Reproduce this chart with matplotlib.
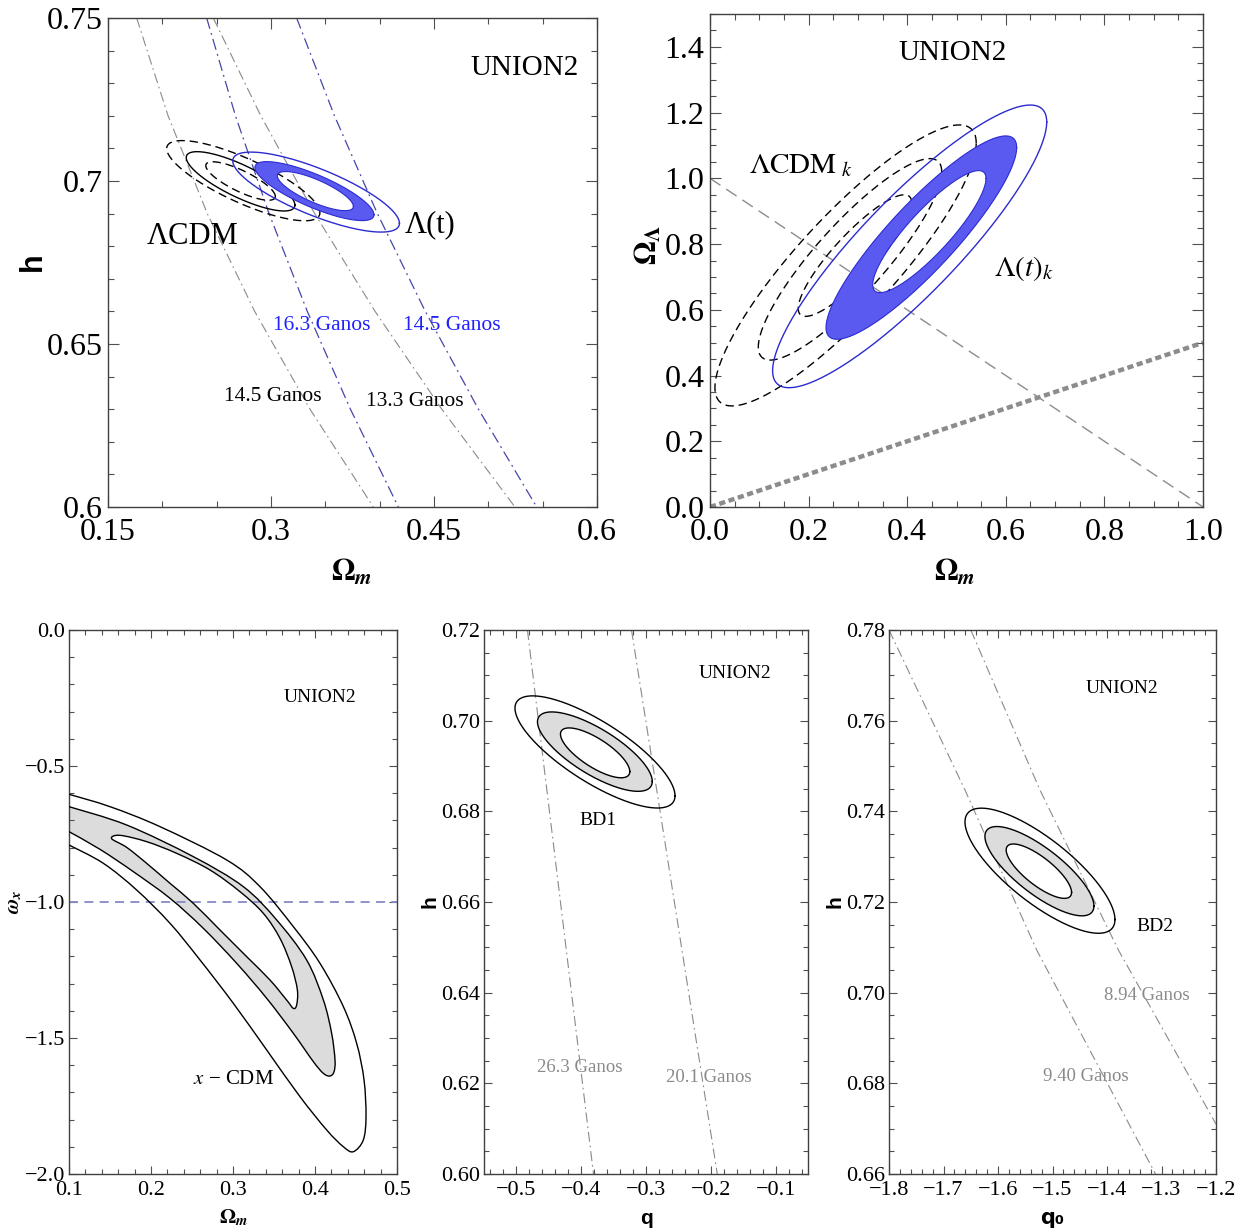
import numpy as np
import matplotlib
matplotlib.use('Agg')
import matplotlib.pyplot as plt
from matplotlib.path import Path
from matplotlib.patches import PathPatch
from matplotlib.ticker import MultipleLocator, FixedLocator, FixedFormatter

plt.rcParams['mathtext.fontset'] = 'stix'
plt.rcParams['font.family'] = ['Liberation Serif', 'DejaVu Serif']

# ---------------- Panel A : (Omega_m, h) ----------------
# contour ellipses: centre x, centre y, half-extent x, half-extent y, correlation
A_lcdm_cx = [0.272, 0.272, 0.2745]
A_lcdm_cy = [0.700, 0.6999, 0.7001]
A_lcdm_rx = [0.032, 0.050, 0.0705]
A_lcdm_ry = [0.0059, 0.0091, 0.0123]
A_lcdm_rho = [-0.8, -0.8, -0.8]
A_lt_cx = [0.3408, 0.340, 0.3415]
A_lt_cy = [0.6969, 0.6969, 0.6966]
A_lt_rx = [0.035, 0.0548, 0.0767]
A_lt_ry = [0.0060, 0.00905, 0.01227]
A_lt_rho = [-0.78, -0.80, -0.78]
A_age_h = [0.75, 0.72, 0.69, 0.66, 0.63, 0.60]
A_age_lcdm_145 = [0.1764, 0.2053, 0.2414, 0.2850, 0.3359, 0.3942]
A_age_lcdm_133 = [0.2469, 0.2906, 0.3402, 0.3958, 0.4572, 0.5245]
A_age_lt_163 = [0.2408, 0.2673, 0.2982, 0.3334, 0.3731, 0.4172]
A_age_lt_145 = [0.3236, 0.3584, 0.3979, 0.4420, 0.4909, 0.5445]
A_xticks = [0.15, 0.3, 0.45, 0.6]
A_xlabels = ['0.15', '0.3', '0.45', '0.6']
A_yticks = [0.6, 0.65, 0.7, 0.75]
A_ylabels = ['0.6', '0.65', '0.7', '0.75']

# ---------------- Panel B : (Omega_m, Omega_Lambda) ----------------
B_lcdm_cx = [0.294, 0.284, 0.275]
B_lcdm_cy = [0.765, 0.7535, 0.735]
B_lcdm_rx = [0.115, 0.186, 0.265]
B_lcdm_ry = [0.185, 0.3065, 0.4275]
B_lcdm_rho = [0.87, 0.87, 0.87]
B_lt_cx = [0.4449, 0.4287, 0.405]
B_lt_cy = [0.8378, 0.8197, 0.793]
B_lt_rx = [0.1149, 0.1934, 0.278]
B_lt_ry = [0.1857, 0.3094, 0.43]
B_lt_rho = [0.87, 0.885, 0.88]
B_flat_om = [0.0, 1.0]
B_flat_ol = [1.0, 0.0]
B_q0_om = [0.0, 1.0]
B_q0_ol = [0.0, 0.5]
B_xticks = [0.0, 0.2, 0.4, 0.6, 0.8, 1.0]
B_xlabels = ['0.0', '0.2', '0.4', '0.6', '0.8', '1.0']
B_yticks = [0.0, 0.2, 0.4, 0.6, 0.8, 1.0, 1.2, 1.4]
B_ylabels = ['0.0', '0.2', '0.4', '0.6', '0.8', '1.0', '1.2', '1.4']

# ---------------- Panel C : (Omega_m, w_x) ----------------
C_out_up_x = [0.1, 0.15, 0.211, 0.2923, 0.3329, 0.3736, 0.4061, 0.4346, 0.4508, 0.4598, 0.4622, 0.4589, 0.4467]
C_out_up_y = [-0.604, -0.6495, -0.723, -0.8456, -0.9436, -1.0907, -1.2255, -1.3848, -1.5196, -1.6544, -1.789, -1.875, -1.918]
C_out_lo_x = [0.4345, 0.4142, 0.3817, 0.3411, 0.3004, 0.2598, 0.2232, 0.1825, 0.1419, 0.1]
C_out_lo_y = [-1.8995, -1.838, -1.7157, -1.5441, -1.3725, -1.2132, -1.0784, -0.9559, -0.8578, -0.7904]
C_mid_up_x = [0.1, 0.1703, 0.2516, 0.3126, 0.3533, 0.3898, 0.4102, 0.4203, 0.4244, 0.4232, 0.4183]
C_mid_up_y = [-0.6495, -0.7169, -0.8333, -0.9436, -1.0662, -1.2132, -1.3603, -1.4828, -1.5809, -1.6238, -1.6397]
C_mid_lo_x = [0.4102, 0.398, 0.3736, 0.3411, 0.3045, 0.2638, 0.2232, 0.1785, 0.1378, 0.1]
C_mid_lo_y = [-1.63, -1.587, -1.4828, -1.3542, -1.2255, -1.0968, -0.9865, -0.8885, -0.8064, -0.7414]
C_in_up_x = [0.152, 0.1622, 0.1947, 0.2313, 0.272, 0.3085, 0.337, 0.3573, 0.3715, 0.3785, 0.3776, 0.3736]
C_in_up_y = [-0.767, -0.7549, -0.7782, -0.8211, -0.8824, -0.962, -1.0417, -1.1336, -1.2377, -1.3235, -1.3787, -1.3909]
C_in_lo_x = [0.3654, 0.3451, 0.3167, 0.2841, 0.2516, 0.2232, 0.1947, 0.1703]
C_in_lo_y = [-1.3603, -1.2868, -1.201, -1.1029, -1.0049, -0.9314, -0.8578, -0.799]
C_wline = -1.0
C_xticks = [0.1, 0.2, 0.3, 0.4, 0.5]
C_xlabels = ['0.1', '0.2', '0.3', '0.4', '0.5']
C_yticks = [0.0, -0.5, -1.0, -1.5, -2.0]
C_ylabels = ['0.0', '\u22120.5', '\u22121.0', '\u22121.5', '\u22122.0']

# ---------------- Panel D : (q, h) BD1 ----------------
D_cx = [-0.3785, -0.3789, -0.3787]
D_cy = [0.6929, 0.69317, 0.6931]
D_rx = [0.0535, 0.0886, 0.1235]
D_ry = [0.0055, 0.00876, 0.01237]
D_rho = [-0.75, -0.75, -0.78]
D_age_h = [0.72, 0.60]
D_age_263 = [-0.483, -0.381]
D_age_201 = [-0.3224, -0.190]
D_xticks = [-0.5, -0.4, -0.3, -0.2, -0.1]
D_xlabels = ['\u22120.5', '\u22120.4', '\u22120.3', '\u22120.2', '\u22120.1']
D_yticks = [0.60, 0.62, 0.64, 0.66, 0.68, 0.70, 0.72]
D_ylabels = ['0.60', '0.62', '0.64', '0.66', '0.68', '0.70', '0.72']

# ---------------- Panel E : (q0, h) BD2 ----------------
E_cx = [-1.525, -1.524, -1.523]
E_cy = [0.7268, 0.7268, 0.7269]
E_rx = [0.060, 0.100, 0.1376]
E_ry = [0.0060, 0.00985, 0.0138]
E_rho = [-0.78, -0.78, -0.78]
E_age940_h = [0.78, 0.7447, 0.7094, 0.66]
E_age940_q = [-1.8, -1.6606, -1.529, -1.311]
E_age894_h = [0.78, 0.7447, 0.7094, 0.671]
E_age894_q = [-1.65, -1.523, -1.379, -1.2]
E_xticks = [-1.8, -1.7, -1.6, -1.5, -1.4, -1.3, -1.2]
E_xlabels = ['\u22121.8', '\u22121.7', '\u22121.6', '\u22121.5', '\u22121.4', '\u22121.3', '\u22121.2']
E_yticks = [0.66, 0.68, 0.70, 0.72, 0.74, 0.76, 0.78]
E_ylabels = ['0.66', '0.68', '0.70', '0.72', '0.74', '0.76', '0.78']

BLUE_FILL = '#5a5af0'
BLUE_EDGE = '#2b2bd0'
GRAY_FILL = '#dcdcdc'
AGE_GRAY = '#8a8a8a'
AGE_BLUE = '#4646a8'
DASHDOT = (0, (9, 3.5, 1.5, 3.5))


def ellipse_xy(cx, cy, rx, ry, rho, reverse=False, n=300):
    t = np.linspace(0, 2 * np.pi, n)
    if reverse:
        t = t[::-1]
    d = np.arccos(rho)
    return cx + rx * np.cos(t), cy + ry * np.cos(t - d)


def ring_patch(ax, xo, yo, xi, yi, fc, z):
    vo = np.c_[xo, yo]
    vi = np.c_[xi, yi]
    verts = np.concatenate([vo, vo[:1], vi, vi[:1]])
    codes = np.full(len(verts), Path.LINETO)
    codes[0] = Path.MOVETO
    codes[len(vo)] = Path.CLOSEPOLY
    codes[len(vo) + 1] = Path.MOVETO
    codes[-1] = Path.CLOSEPOLY
    ax.add_patch(PathPatch(Path(verts, codes), fc=fc, ec='none', lw=0, zorder=z))


def smooth_segments(x, y, closed=False):
    """Bezier (Catmull-Rom) segments through the read vertices."""
    P = np.c_[x, y].astype(float)
    n = len(P)
    verts = [P[0]]
    codes = [Path.MOVETO]
    last = n if closed else n - 1
    for i in range(last):
        p0 = P[(i - 1) % n] if (closed or i > 0) else P[0]
        p1 = P[i % n]
        p2 = P[(i + 1) % n]
        p3 = P[(i + 2) % n] if (closed or i + 2 < n) else P[n - 1]
        c1 = p1 + (p2 - p0) / 6.0
        c2 = p2 - (p3 - p1) / 6.0
        verts += [c1, c2, p2]
        codes += [Path.CURVE4] * 3
    return verts, codes


def signed_area(x, y):
    x = np.asarray(x); y = np.asarray(y)
    return 0.5 * np.sum(x * np.roll(y, -1) - np.roll(x, -1) * y)


def style(ax, xt, xl, xminor, yt, yl, yminor, fs, L, pad):
    ax.xaxis.set_major_locator(FixedLocator(xt))
    ax.xaxis.set_major_formatter(FixedFormatter(xl))
    ax.yaxis.set_major_locator(FixedLocator(yt))
    ax.yaxis.set_major_formatter(FixedFormatter(yl))
    ax.xaxis.set_minor_locator(MultipleLocator(xminor))
    ax.yaxis.set_minor_locator(MultipleLocator(yminor))
    ax.tick_params(which='both', direction='in', top=True, right=True,
                   color='#505050', width=0.8, labelsize=fs)
    ax.tick_params(axis='x', pad=pad[0])
    ax.tick_params(axis='y', pad=pad[1])
    ax.tick_params(which='major', length=L)
    ax.tick_params(which='minor', length=L * 0.55)
    for s in ax.spines.values():
        s.set_color('#404040')
        s.set_linewidth(1.0)


fig = plt.figure(figsize=(12.52, 12.32), dpi=100)
W, H = 1252.0, 1232.0


def axes_px(x0, x1, y0, y1):
    return fig.add_axes([x0 / W, 1 - y1 / H, (x1 - x0) / W, (y1 - y0) / H])


# ================= Panel A =================
ax = axes_px(108, 597, 18, 507)
ax.set_xlim(0.15, 0.6)
ax.set_ylim(0.6, 0.75)
ax.plot(A_age_lcdm_145, A_age_h, color=AGE_GRAY, lw=0.8, ls=DASHDOT, zorder=1)
ax.plot(A_age_lcdm_133, A_age_h, color=AGE_GRAY, lw=0.8, ls=DASHDOT, zorder=1)
ax.plot(A_age_lt_163, A_age_h, color=AGE_BLUE, lw=0.9, ls=DASHDOT, zorder=1)
ax.plot(A_age_lt_145, A_age_h, color=AGE_BLUE, lw=0.9, ls=DASHDOT, zorder=1)
for i, st in enumerate(['--', '-', '--']):
    x, y = ellipse_xy(A_lcdm_cx[i], A_lcdm_cy[i], A_lcdm_rx[i], A_lcdm_ry[i], A_lcdm_rho[i])
    ax.plot(x, y, color='black', lw=1.0, ls=(0, (6, 3.5)) if st == '--' else '-', zorder=2)
xi, yi = ellipse_xy(A_lt_cx[0], A_lt_cy[0], A_lt_rx[0], A_lt_ry[0], A_lt_rho[0], reverse=True)
xo, yo = ellipse_xy(A_lt_cx[1], A_lt_cy[1], A_lt_rx[1], A_lt_ry[1], A_lt_rho[1])
ring_patch(ax, xo, yo, xi, yi, BLUE_FILL, 3)
ax.plot(xo, yo, color=BLUE_EDGE, lw=0.8, zorder=4)
ax.plot(xi, yi, color=BLUE_EDGE, lw=0.8, zorder=4)
x, y = ellipse_xy(A_lt_cx[2], A_lt_cy[2], A_lt_rx[2], A_lt_ry[2], A_lt_rho[2])
ax.plot(x, y, color=BLUE_EDGE, lw=1.0, zorder=4)
ax.text(0.5337, 0.7347, 'UNION2', fontsize=21, ha='center', va='center')
ax.text(0.228, 0.6831, '\u039bCDM', fontsize=22, ha='center', va='center')
ax.text(0.4463, 0.6865, '\u039b(t)', fontsize=22, ha='center', va='center')
ax.text(0.347, 0.6558, '16.3 Ganos', fontsize=15.5, color='#2020ff', ha='center', va='center')
ax.text(0.4666, 0.6558, '14.5 Ganos', fontsize=15.5, color='#2020ff', ha='center', va='center')
ax.text(0.3019, 0.634, '14.5 Ganos', fontsize=15.5, color='black', ha='center', va='center')
ax.text(0.4325, 0.6325, '13.3 Ganos', fontsize=15.5, color='black', ha='center', va='center')
style(ax, A_xticks, A_xlabels, 0.05, A_yticks, A_ylabels, 0.01, 23, 8, (8, 4))
ax.text(0.499, -0.135, r'$\mathbf{\Omega}_{\boldsymbol{m}}$', fontsize=22,
        transform=ax.transAxes, ha='center', va='center')
ax.text(-0.153, 0.501, 'h', fontsize=22, fontweight='bold', family='Liberation Sans',
        rotation=90, transform=ax.transAxes, ha='center', va='center')

# ================= Panel B =================
ax = axes_px(710, 1203, 14, 507)
ax.set_xlim(0.0, 1.0)
ax.set_ylim(0.0, 1.5)
ax.plot(B_flat_om, B_flat_ol, color='#8c8c8c', lw=1.0, ls=(0, (9, 5)), zorder=1)
ax.plot(B_q0_om, B_q0_ol, color='#8c8c8c', lw=3.2, ls=(0, (1.4, 0.8)),
        solid_capstyle='butt', dash_capstyle='butt', zorder=1)
for i in range(3):
    x, y = ellipse_xy(B_lcdm_cx[i], B_lcdm_cy[i], B_lcdm_rx[i], B_lcdm_ry[i], B_lcdm_rho[i])
    ax.plot(x, y, color='black', lw=1.0, ls=(0, (6, 3.5)), zorder=2)
xi, yi = ellipse_xy(B_lt_cx[0], B_lt_cy[0], B_lt_rx[0], B_lt_ry[0], B_lt_rho[0], reverse=True)
xo, yo = ellipse_xy(B_lt_cx[1], B_lt_cy[1], B_lt_rx[1], B_lt_ry[1], B_lt_rho[1])
ring_patch(ax, xo, yo, xi, yi, BLUE_FILL, 3)
ax.plot(xo, yo, color=BLUE_EDGE, lw=0.8, zorder=4)
ax.plot(xi, yi, color=BLUE_EDGE, lw=0.8, zorder=4)
x, y = ellipse_xy(B_lt_cx[2], B_lt_cy[2], B_lt_rx[2], B_lt_ry[2], B_lt_rho[2])
ax.plot(x, y, color=BLUE_EDGE, lw=1.0, zorder=4)
ax.text(0.491, 1.3816, 'UNION2', fontsize=21, ha='center', va='center')
ax.text(0.185, 1.04, r'$\Lambda\mathrm{CDM}_{\ k}$', fontsize=21, ha='center', va='center')
ax.text(0.637, 0.727, r'$\Lambda(t)_k$', fontsize=21, ha='center', va='center')
style(ax, B_xticks, B_xlabels, 0.05, B_yticks, B_ylabels, 0.05, 23, 8, (8, 4))
ax.text(0.497, -0.134, r'$\mathbf{\Omega}_{\boldsymbol{m}}$', fontsize=22,
        transform=ax.transAxes, ha='center', va='center')
ax.text(-0.124, 0.531, r'$\mathbf{\Omega}_{\mathbf{\Lambda}}$', fontsize=22, rotation=90,
        transform=ax.transAxes, ha='center', va='center')

# ================= Panel C =================
ax = axes_px(69, 397, 630, 1174)
ax.set_xlim(0.1, 0.5)
ax.set_ylim(-2.0, 0.0)
# 2-sigma region (closed outside the left frame) with 1-sigma hole
mx = list(C_mid_up_x) + list(C_mid_lo_x)
my = list(C_mid_up_y) + list(C_mid_lo_y)
v1, c1 = smooth_segments(mx, my)
v1 += [(0.05, C_mid_lo_y[-1]), (0.05, C_mid_up_y[0]), (0, 0)]
c1 += [Path.LINETO, Path.LINETO, Path.CLOSEPOLY]
ix = list(C_in_up_x) + list(C_in_lo_x)
iy = list(C_in_up_y) + list(C_in_lo_y)
a_out = signed_area(mx + [0.05, 0.05], my + [C_mid_lo_y[-1], C_mid_up_y[0]])
if np.sign(a_out) == np.sign(signed_area(ix, iy)):
    ix, iy = ix[::-1], iy[::-1]
v2, c2 = smooth_segments(ix, iy, closed=True)
ax.add_patch(PathPatch(Path(np.array(v1 + v2), c1 + c2), fc=GRAY_FILL, ec='none', lw=0, zorder=1))
vm, cm = smooth_segments(mx, my)
ax.add_patch(PathPatch(Path(np.array(vm), cm), fill=False, ec='black', lw=1.0, zorder=3))
ax.add_patch(PathPatch(Path(np.array(v2), c2), fill=False, ec='black', lw=1.0, zorder=3))
vo, co = smooth_segments(list(C_out_up_x) + list(C_out_lo_x), list(C_out_up_y) + list(C_out_lo_y))
ax.add_patch(PathPatch(Path(np.array(vo), co), fill=False, ec='black', lw=1.0, zorder=3))
ax.axhline(C_wline, color='#8888c8', lw=1.3, ls=(0, (5, 3.5)), zorder=2)
ax.text(0.406, -0.25, 'UNION2', fontsize=14, ha='center', va='center')
ax.text(0.301, -1.654, '$x$ \u2212 CDM', fontsize=15, ha='center', va='center')
style(ax, C_xticks, C_xlabels, 0.02, C_yticks, C_ylabels, 0.1, 16, 6, (5, 3))
ax.text(0.5, -0.081, r'$\mathbf{\Omega}_{\boldsymbol{m}}$', fontsize=15,
        transform=ax.transAxes, ha='center', va='center')
ax.text(-0.165, 0.5, r'$\boldsymbol{\omega}_{\boldsymbol{x}}$', fontsize=15, rotation=90,
        transform=ax.transAxes, ha='center', va='center')

# ================= Panel D =================
ax = axes_px(484, 808, 630, 1174)
ax.set_xlim(-0.55, -0.05)
ax.set_ylim(0.60, 0.72)
ax.plot(D_age_263, D_age_h, color=AGE_GRAY, lw=0.8, ls=DASHDOT, zorder=1)
ax.plot(D_age_201, D_age_h, color=AGE_GRAY, lw=0.8, ls=DASHDOT, zorder=1)
xi, yi = ellipse_xy(D_cx[0], D_cy[0], D_rx[0], D_ry[0], D_rho[0], reverse=True)
xo, yo = ellipse_xy(D_cx[1], D_cy[1], D_rx[1], D_ry[1], D_rho[1])
ring_patch(ax, xo, yo, xi, yi, GRAY_FILL, 2)
ax.plot(xo, yo, color='black', lw=1.0, zorder=3)
ax.plot(xi, yi, color='black', lw=1.0, zorder=3)
x, y = ellipse_xy(D_cx[2], D_cy[2], D_rx[2], D_ry[2], D_rho[2])
ax.plot(x, y, color='black', lw=1.0, zorder=3)
ax.text(-0.163, 0.7105, 'UNION2', fontsize=14, ha='center', va='center')
ax.text(-0.374, 0.678, 'BD1', fontsize=14, ha='center', va='center')
ax.text(-0.403, 0.6234, '26.3 Ganos', fontsize=13.5, color='#8a8a8a', ha='center', va='center')
ax.text(-0.203, 0.6212, '20.1 Ganos', fontsize=13.5, color='#8a8a8a', ha='center', va='center')
style(ax, D_xticks, D_xlabels, 0.02, D_yticks, D_ylabels, 0.005, 16, 6, (5, 3))
ax.text(0.503, -0.081, 'q', fontsize=15, fontweight='bold', family='Liberation Sans',
        transform=ax.transAxes, ha='center', va='center')
ax.text(-0.167, 0.5, 'h', fontsize=15, fontweight='bold', family='Liberation Sans', rotation=90,
        transform=ax.transAxes, ha='center', va='center')

# ================= Panel E =================
ax = axes_px(889, 1216, 630, 1174)
ax.set_xlim(-1.8, -1.2)
ax.set_ylim(0.66, 0.78)
ax.plot(E_age940_q, E_age940_h, color=AGE_GRAY, lw=0.8, ls=DASHDOT, zorder=1)
ax.plot(E_age894_q, E_age894_h, color=AGE_GRAY, lw=0.8, ls=DASHDOT, zorder=1)
xi, yi = ellipse_xy(E_cx[0], E_cy[0], E_rx[0], E_ry[0], E_rho[0], reverse=True)
xo, yo = ellipse_xy(E_cx[1], E_cy[1], E_rx[1], E_ry[1], E_rho[1])
ring_patch(ax, xo, yo, xi, yi, GRAY_FILL, 2)
ax.plot(xo, yo, color='black', lw=1.0, zorder=3)
ax.plot(xi, yi, color='black', lw=1.0, zorder=3)
x, y = ellipse_xy(E_cx[2], E_cy[2], E_rx[2], E_ry[2], E_rho[2])
ax.plot(x, y, color='black', lw=1.0, zorder=3)
ax.text(-1.372, 0.7672, 'UNION2', fontsize=14, ha='center', va='center')
ax.text(-1.312, 0.7145, 'BD2', fontsize=14, ha='center', va='center')
ax.text(-1.327, 0.6993, '8.94 Ganos', fontsize=13.5, color='#8a8a8a', ha='center', va='center')
ax.text(-1.4385, 0.6816, '9.40 Ganos', fontsize=13.5, color='#8a8a8a', ha='center', va='center')
style(ax, E_xticks, E_xlabels, 0.02, E_yticks, E_ylabels, 0.005, 16, 6, (5, 3))
ax.text(0.498, -0.081, 'q\u2080', fontsize=15, fontweight='bold', family='DejaVu Sans',
        transform=ax.transAxes, ha='center', va='center')
ax.text(-0.165, 0.5, 'h', fontsize=15, fontweight='bold', family='Liberation Sans', rotation=90,
        transform=ax.transAxes, ha='center', va='center')

fig.savefig('out.png', dpi=100)
